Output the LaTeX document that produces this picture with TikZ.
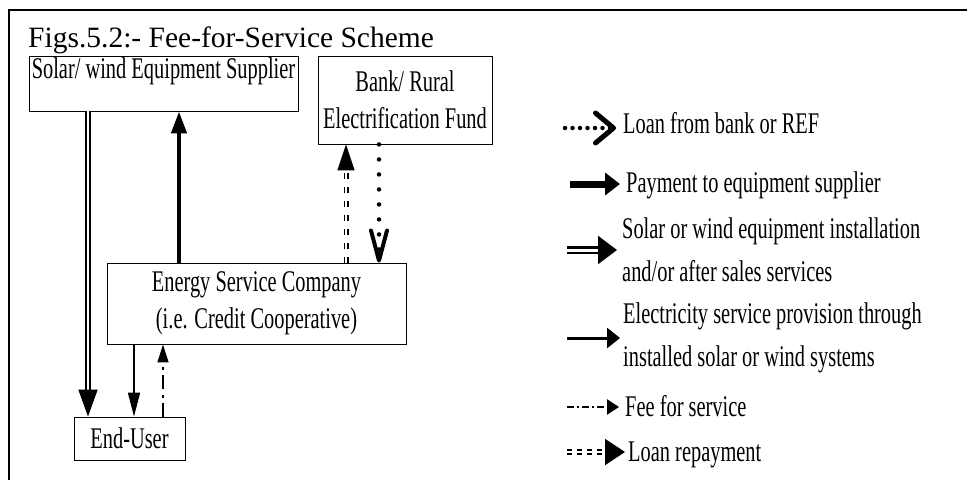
\documentclass[tikz,border=0pt]{standalone}
\usepackage{fontspec}
\setmainfont{Liberation Serif}
\newfontfamily\narrowfont[FakeStretch=0.68]{Liberation Serif}
\usetikzlibrary{arrows.meta,positioning}
\tikzstyle{boxNode} = [rectangle, draw=black, line width=0.9pt, inner sep=0pt, align=center, font=\narrowfont\fontsize{30}{37}\selectfont]
\tikzstyle{legNode} = [inner sep=0pt, align=left, anchor=base west, font=\narrowfont\fontsize{30}{43}\selectfont]
\tikzstyle{arrowEquip} = [double, line width=1.8pt, double distance=2pt, -{Triangle[length=27pt,width=19pt]}]
\tikzstyle{arrowPay} = [line width=4.5pt, -{Triangle[length=22pt,width=15pt]}]
\tikzstyle{arrowRepay} = [double, line width=1.5pt, double distance=2pt, dash pattern=on 6pt off 8pt, -{Triangle[length=26pt,width=17pt]}]
\tikzstyle{arrowLoan} = [line width=4.5pt, line cap=round, dash pattern=on 0pt off 15pt, -{Straight Barb[length=30pt,width=16pt,line width=4pt,round]}]
\tikzstyle{arrowElec} = [line width=1.6pt, -{Triangle[length=24pt,width=12pt]}]
\tikzstyle{arrowFee} = [line width=1.5pt, dash pattern=on 14pt off 5pt on 3pt off 6pt, -{Triangle[length=18pt,width=11pt]}]
\tikzstyle{legLoan} = [line width=4.5pt, line cap=round, dash pattern=on 0pt off 7.5pt, -{Straight Barb[length=18pt,width=30pt,line width=5pt,round]}]
\tikzstyle{legPay} = [line width=7pt, -{Triangle[length=15pt,width=22pt]}]
\tikzstyle{legEquip} = [double, line width=2.5pt, double distance=3pt, -{Triangle[length=19pt,width=28pt]}]
\tikzstyle{legElec} = [line width=3pt, -{Triangle[length=13pt,width=20pt]}]
\tikzstyle{legFee} = [line width=2.5pt, dash pattern=on 7pt off 3pt on 2pt off 3pt, -{Triangle[length=12pt,width=15pt]}]
\tikzstyle{legRepay} = [double, line width=2pt, double distance=2.5pt, dash pattern=on 5pt off 5pt, -{Triangle[length=20pt,width=26pt]}]

\begin{document}
\begin{tikzpicture}[x=1pt, y=-1pt]
    \useasboundingbox (0,0) rectangle (967,480);
    \draw [line width=2pt] (9,480) -- (9,10) -- (967,10);
    \node (title) [anchor=base west, inner sep=0pt, font=\fontsize{29.5}{30}\selectfont] at (28,47) {Figs.5.2:- Fee-for-Service Scheme};

    \node (supplier) [boxNode, minimum width=269pt, text height=22pt, text depth=33pt] at (163.5,83.5) {Solar/ wind Equipment Supplier};
    \node (bank) [boxNode, minimum width=174pt, minimum height=88pt] at (405,100) {Bank/ Rural\\Electrification Fund};
    \node (esc) [boxNode, minimum width=299pt, minimum height=81pt] at (256.5,303.5) {Energy Service Company\\(i.e. Credit Cooperative)};
    \node (user) [boxNode, minimum width=111pt, minimum height=43pt] at (129.5,438.5) {End-User};

    \draw [arrowEquip] ([xshift=-75.5pt]supplier.south) -- ([xshift=-41.5pt]user.north);
    \draw [arrowPay] ([xshift=-77.5pt]esc.north) -- ([xshift=15.5pt]supplier.south);
    \draw [arrowRepay] ([xshift=89.5pt]esc.north) -- ([xshift=-59pt]bank.south);
    \draw [arrowLoan] ([xshift=-26pt]bank.south) -- ([xshift=122.5pt]esc.north);
    \draw [arrowElec] ([xshift=-122.5pt]esc.south) -- ([xshift=4.5pt]user.north);
    \draw [arrowFee] ([xshift=33.5pt]user.north) -- ([xshift=-93.5pt]esc.south);

    % legend (base is the last line)
    \node (lLoan) [legNode] at (623,133) {Loan from bank or REF};
    \node (lPay) [legNode] at (626,192) {Payment to equipment supplier};
    \node (lEquip) [legNode] at (622,281) {Solar or wind equipment installation\\and/or after sales services};
    \node (lElec) [legNode] at (623,366) {Electricity service provision through\\installed solar or wind systems};
    \node (lFee) [legNode] at (625,416) {Fee for service};
    \node (lRepay) [legNode] at (628,461) {Loan repayment};

    \coordinate (cLoan) at (565,128);
    \coordinate (cPay) at (570,184);
    \coordinate (cEquip) at (567,250);
    \coordinate (cElec) at (567,338);
    \coordinate (cFee) at (567,407);
    \coordinate (cRepay) at (567,452);
    \draw [legLoan] (cLoan) -- ([xshift=-7pt]cLoan -| lLoan.west);
    \draw [legPay] (cPay) -- ([xshift=-6pt]cPay -| lPay.west);
    \draw [legEquip] (cEquip) -- ([xshift=-5pt]cEquip -| lEquip.west);
    \draw [legElec] (cElec) -- ([xshift=-3pt]cElec -| lElec.west);
    \draw [legFee] (cFee) -- ([xshift=-6pt]cFee -| lFee.west);
    \draw [legRepay] (cRepay) -- ([xshift=-3pt]cRepay -| lRepay.west);
\end{tikzpicture}
\end{document}
